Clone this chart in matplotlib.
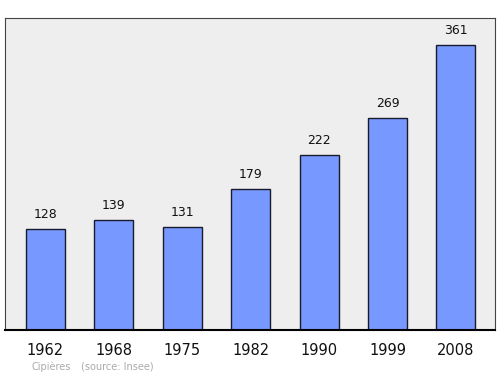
import matplotlib
matplotlib.use("Agg")
from matplotlib import pyplot as plt

# Data
years = ['1962', '1968', '1975', '1982', '1990', '1999', '2008']
population = [128, 139, 131, 179, 222, 269, 361]

fig = plt.figure(figsize=(5, 3.74), dpi=100)
ax = fig.add_axes([0.01, 0.1176, 0.98, 0.834])
ax.set_facecolor('#eeeeee')

x = range(len(years))
ax.bar(x, population, width=0.57, color='#7799ff', edgecolor='#1a1a2e', linewidth=1.0, zorder=2)

for xi, v in zip(x, population):
    ax.text(xi, v + 10, str(v), ha='center', va='bottom', fontsize=9, color='#111111')

ax.set_xlim(-0.59, 6.57)
ax.set_ylim(0, 395)
ax.set_yticks([])
ax.set_xticks(list(x))
ax.set_xticklabels(years, fontsize=10.5, color='#111111')
ax.tick_params(axis='x', length=0, pad=9)

for side in ['left', 'right', 'top']:
    ax.spines[side].set_linewidth(0.8)
    ax.spines[side].set_color('#444444')
ax.spines['bottom'].set_linewidth(1.5)

fig.text(0.062, 0.012, 'Cipières', fontsize=7, color='#aaaaaa')
fig.text(0.162, 0.012, '(source: Insee)', fontsize=7, color='#aaaaaa')

plt.savefig('out.png', dpi=100)
